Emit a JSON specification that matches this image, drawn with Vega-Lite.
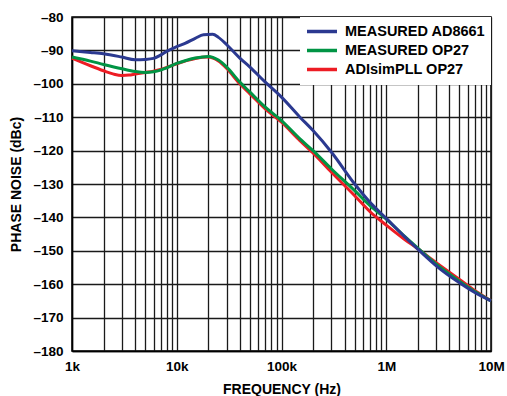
{
  "$schema": "https://vega.github.io/schema/vega-lite/v6.json",
  "width": 419,
  "height": 334,
  "autosize": {"type": "none"},
  "padding": {"left": 72, "top": 17, "right": 16, "bottom": 45},
  "background": "white",
  "config": {
    "view": {"stroke": "black", "strokeWidth": 1.5},
    "font": "Liberation Sans",
    "axis": {
      "labelFont": "Liberation Sans",
      "labelFontWeight": "bold",
      "labelFontSize": 13.5,
      "labelColor": "black",
      "titleFont": "Liberation Sans",
      "titleFontWeight": "bold",
      "titleFontSize": 14,
      "titleColor": "black",
      "gridColor": "#1a1a1a",
      "gridWidth": 1.3,
      "gridOpacity": 1,
      "domainColor": "black",
      "domainWidth": 1.5,
      "ticks": false
    },
    "legend": {
      "labelFont": "Liberation Sans",
      "labelFontWeight": "bold",
      "labelFontSize": 14.5,
      "labelColor": "black"
    }
  },
  "data": {
    "values": [
      {"series": "ADIsimPLL OP27", "f": 1000, "pn": -92.3},
      {"series": "ADIsimPLL OP27", "f": 1500, "pn": -94.6},
      {"series": "ADIsimPLL OP27", "f": 2000, "pn": -96.1},
      {"series": "ADIsimPLL OP27", "f": 2500, "pn": -97.1},
      {"series": "ADIsimPLL OP27", "f": 3000, "pn": -97.5},
      {"series": "ADIsimPLL OP27", "f": 3500, "pn": -97.4},
      {"series": "ADIsimPLL OP27", "f": 4000, "pn": -97.1},
      {"series": "ADIsimPLL OP27", "f": 5000, "pn": -96.6},
      {"series": "ADIsimPLL OP27", "f": 6000, "pn": -96.2},
      {"series": "ADIsimPLL OP27", "f": 7000, "pn": -95.7},
      {"series": "ADIsimPLL OP27", "f": 8000, "pn": -95.1},
      {"series": "ADIsimPLL OP27", "f": 10000, "pn": -94.0},
      {"series": "ADIsimPLL OP27", "f": 12000, "pn": -93.2},
      {"series": "ADIsimPLL OP27", "f": 15000, "pn": -92.4},
      {"series": "ADIsimPLL OP27", "f": 20000, "pn": -92.0},
      {"series": "ADIsimPLL OP27", "f": 25000, "pn": -93.2},
      {"series": "ADIsimPLL OP27", "f": 30000, "pn": -95.4},
      {"series": "ADIsimPLL OP27", "f": 40000, "pn": -100.0},
      {"series": "ADIsimPLL OP27", "f": 50000, "pn": -103.0},
      {"series": "ADIsimPLL OP27", "f": 70000, "pn": -107.5},
      {"series": "ADIsimPLL OP27", "f": 100000, "pn": -111.5},
      {"series": "ADIsimPLL OP27", "f": 150000, "pn": -117.0},
      {"series": "ADIsimPLL OP27", "f": 200000, "pn": -120.7},
      {"series": "ADIsimPLL OP27", "f": 300000, "pn": -126.5},
      {"series": "ADIsimPLL OP27", "f": 500000, "pn": -133.5},
      {"series": "ADIsimPLL OP27", "f": 700000, "pn": -138.3},
      {"series": "ADIsimPLL OP27", "f": 1000000, "pn": -142.3},
      {"series": "ADIsimPLL OP27", "f": 1500000, "pn": -146.6},
      {"series": "ADIsimPLL OP27", "f": 2000000, "pn": -149.4},
      {"series": "ADIsimPLL OP27", "f": 3000000, "pn": -153.6},
      {"series": "ADIsimPLL OP27", "f": 5000000, "pn": -158.6},
      {"series": "ADIsimPLL OP27", "f": 7000000, "pn": -161.9},
      {"series": "ADIsimPLL OP27", "f": 10000000, "pn": -165.0},
      {"series": "MEASURED OP27", "f": 1000, "pn": -92.0},
      {"series": "MEASURED OP27", "f": 1500, "pn": -93.2},
      {"series": "MEASURED OP27", "f": 2000, "pn": -94.2},
      {"series": "MEASURED OP27", "f": 3000, "pn": -95.5},
      {"series": "MEASURED OP27", "f": 4000, "pn": -96.3},
      {"series": "MEASURED OP27", "f": 5000, "pn": -96.6},
      {"series": "MEASURED OP27", "f": 6000, "pn": -96.4},
      {"series": "MEASURED OP27", "f": 7000, "pn": -95.9},
      {"series": "MEASURED OP27", "f": 8000, "pn": -95.2},
      {"series": "MEASURED OP27", "f": 10000, "pn": -93.9},
      {"series": "MEASURED OP27", "f": 12000, "pn": -93.1},
      {"series": "MEASURED OP27", "f": 15000, "pn": -92.3},
      {"series": "MEASURED OP27", "f": 20000, "pn": -91.8},
      {"series": "MEASURED OP27", "f": 25000, "pn": -92.9},
      {"series": "MEASURED OP27", "f": 30000, "pn": -95.0},
      {"series": "MEASURED OP27", "f": 40000, "pn": -99.5},
      {"series": "MEASURED OP27", "f": 50000, "pn": -102.5},
      {"series": "MEASURED OP27", "f": 70000, "pn": -107.0},
      {"series": "MEASURED OP27", "f": 100000, "pn": -111.0},
      {"series": "MEASURED OP27", "f": 150000, "pn": -116.5},
      {"series": "MEASURED OP27", "f": 200000, "pn": -120.0},
      {"series": "MEASURED OP27", "f": 300000, "pn": -125.5},
      {"series": "MEASURED OP27", "f": 500000, "pn": -132.0},
      {"series": "MEASURED OP27", "f": 700000, "pn": -136.5},
      {"series": "MEASURED OP27", "f": 1000000, "pn": -140.5},
      {"series": "MEASURED OP27", "f": 1500000, "pn": -145.7},
      {"series": "MEASURED OP27", "f": 2000000, "pn": -149.2},
      {"series": "MEASURED OP27", "f": 3000000, "pn": -154.0},
      {"series": "MEASURED OP27", "f": 5000000, "pn": -159.1},
      {"series": "MEASURED OP27", "f": 7000000, "pn": -162.2},
      {"series": "MEASURED OP27", "f": 10000000, "pn": -165.0},
      {"series": "MEASURED AD8661", "f": 1000, "pn": -90.1},
      {"series": "MEASURED AD8661", "f": 1500, "pn": -90.6},
      {"series": "MEASURED AD8661", "f": 2000, "pn": -91.0},
      {"series": "MEASURED AD8661", "f": 3000, "pn": -92.0},
      {"series": "MEASURED AD8661", "f": 4000, "pn": -92.8},
      {"series": "MEASURED AD8661", "f": 5000, "pn": -92.7},
      {"series": "MEASURED AD8661", "f": 6000, "pn": -92.4},
      {"series": "MEASURED AD8661", "f": 7000, "pn": -91.4},
      {"series": "MEASURED AD8661", "f": 8000, "pn": -90.3},
      {"series": "MEASURED AD8661", "f": 10000, "pn": -88.9},
      {"series": "MEASURED AD8661", "f": 12000, "pn": -87.9},
      {"series": "MEASURED AD8661", "f": 15000, "pn": -86.4},
      {"series": "MEASURED AD8661", "f": 18000, "pn": -85.3},
      {"series": "MEASURED AD8661", "f": 22000, "pn": -85.2},
      {"series": "MEASURED AD8661", "f": 25000, "pn": -86.1},
      {"series": "MEASURED AD8661", "f": 30000, "pn": -88.3},
      {"series": "MEASURED AD8661", "f": 40000, "pn": -92.3},
      {"series": "MEASURED AD8661", "f": 50000, "pn": -95.0},
      {"series": "MEASURED AD8661", "f": 70000, "pn": -99.5},
      {"series": "MEASURED AD8661", "f": 100000, "pn": -104.0},
      {"series": "MEASURED AD8661", "f": 150000, "pn": -110.0},
      {"series": "MEASURED AD8661", "f": 200000, "pn": -114.0},
      {"series": "MEASURED AD8661", "f": 300000, "pn": -120.5},
      {"series": "MEASURED AD8661", "f": 500000, "pn": -130.0},
      {"series": "MEASURED AD8661", "f": 700000, "pn": -135.5},
      {"series": "MEASURED AD8661", "f": 1000000, "pn": -140.3},
      {"series": "MEASURED AD8661", "f": 1500000, "pn": -145.8},
      {"series": "MEASURED AD8661", "f": 2000000, "pn": -149.5},
      {"series": "MEASURED AD8661", "f": 3000000, "pn": -154.5},
      {"series": "MEASURED AD8661", "f": 5000000, "pn": -159.6},
      {"series": "MEASURED AD8661", "f": 7000000, "pn": -162.5},
      {"series": "MEASURED AD8661", "f": 10000000, "pn": -165.0}
    ]
  },
  "encoding": {
    "x": {
      "field": "f",
      "type": "quantitative",
      "scale": {"type": "log", "domain": [1000, 10000000], "nice": false},
      "axis": {
        "title": "FREQUENCY (Hz)",
        "titlePadding": 10,
        "labelPadding": 8,
        "values": [1000, 2000, 3000, 4000, 5000, 6000, 7000, 8000, 9000, 10000, 20000, 30000, 40000, 50000, 60000, 70000, 80000, 90000, 100000, 200000, 300000, 400000, 500000, 600000, 700000, 800000, 900000, 1000000, 2000000, 3000000, 4000000, 5000000, 6000000, 7000000, 8000000, 9000000, 10000000],
        "labelExpr": "datum.value == 1000 ? '1k' : datum.value == 10000 ? '10k' : datum.value == 100000 ? '100k' : datum.value == 1000000 ? '1M' : datum.value == 10000000 ? '10M' : ''",
        "labelOverlap": false,
        "labelFlush": false
      }
    },
    "y": {
      "field": "pn",
      "type": "quantitative",
      "scale": {"domain": [-180, -80], "nice": false},
      "axis": {
        "title": "PHASE NOISE (dBc)",
        "titlePadding": 9,
        "labelPadding": 9,
        "values": [-180, -170, -160, -150, -140, -130, -120, -110, -100, -90, -80],
        "labelExpr": "'–' + abs(datum.value)"
      }
    },
    "color": {
      "field": "series",
      "type": "nominal",
      "scale": {
        "domain": ["MEASURED AD8661", "MEASURED OP27", "ADIsimPLL OP27"],
        "range": ["#2b3990", "#009444", "#ed1c24"]
      },
      "legend": {
        "title": " ",
        "titleOrient": "bottom",
        "titleFontSize": 3,
        "titlePadding": 0,
        "orient": "top-right",
        "offset": 0,
        "padding": 5,
        "fillColor": "white",
        "symbolType": "M-1,0H3",
        "symbolStrokeWidth": 3.5,
        "symbolSize": 225,
        "rowPadding": 2,
        "labelOffset": 21
      }
    }
  },
  "layer": [
    {
      "transform": [{"filter": "datum.series == 'ADIsimPLL OP27'"}],
      "mark": {"type": "line", "strokeWidth": 3, "interpolate": "monotone"}
    },
    {
      "transform": [{"filter": "datum.series == 'MEASURED OP27'"}],
      "mark": {"type": "line", "strokeWidth": 3, "interpolate": "monotone"}
    },
    {
      "transform": [{"filter": "datum.series == 'MEASURED AD8661'"}],
      "mark": {"type": "line", "strokeWidth": 3, "interpolate": "monotone"}
    }
  ]
}
